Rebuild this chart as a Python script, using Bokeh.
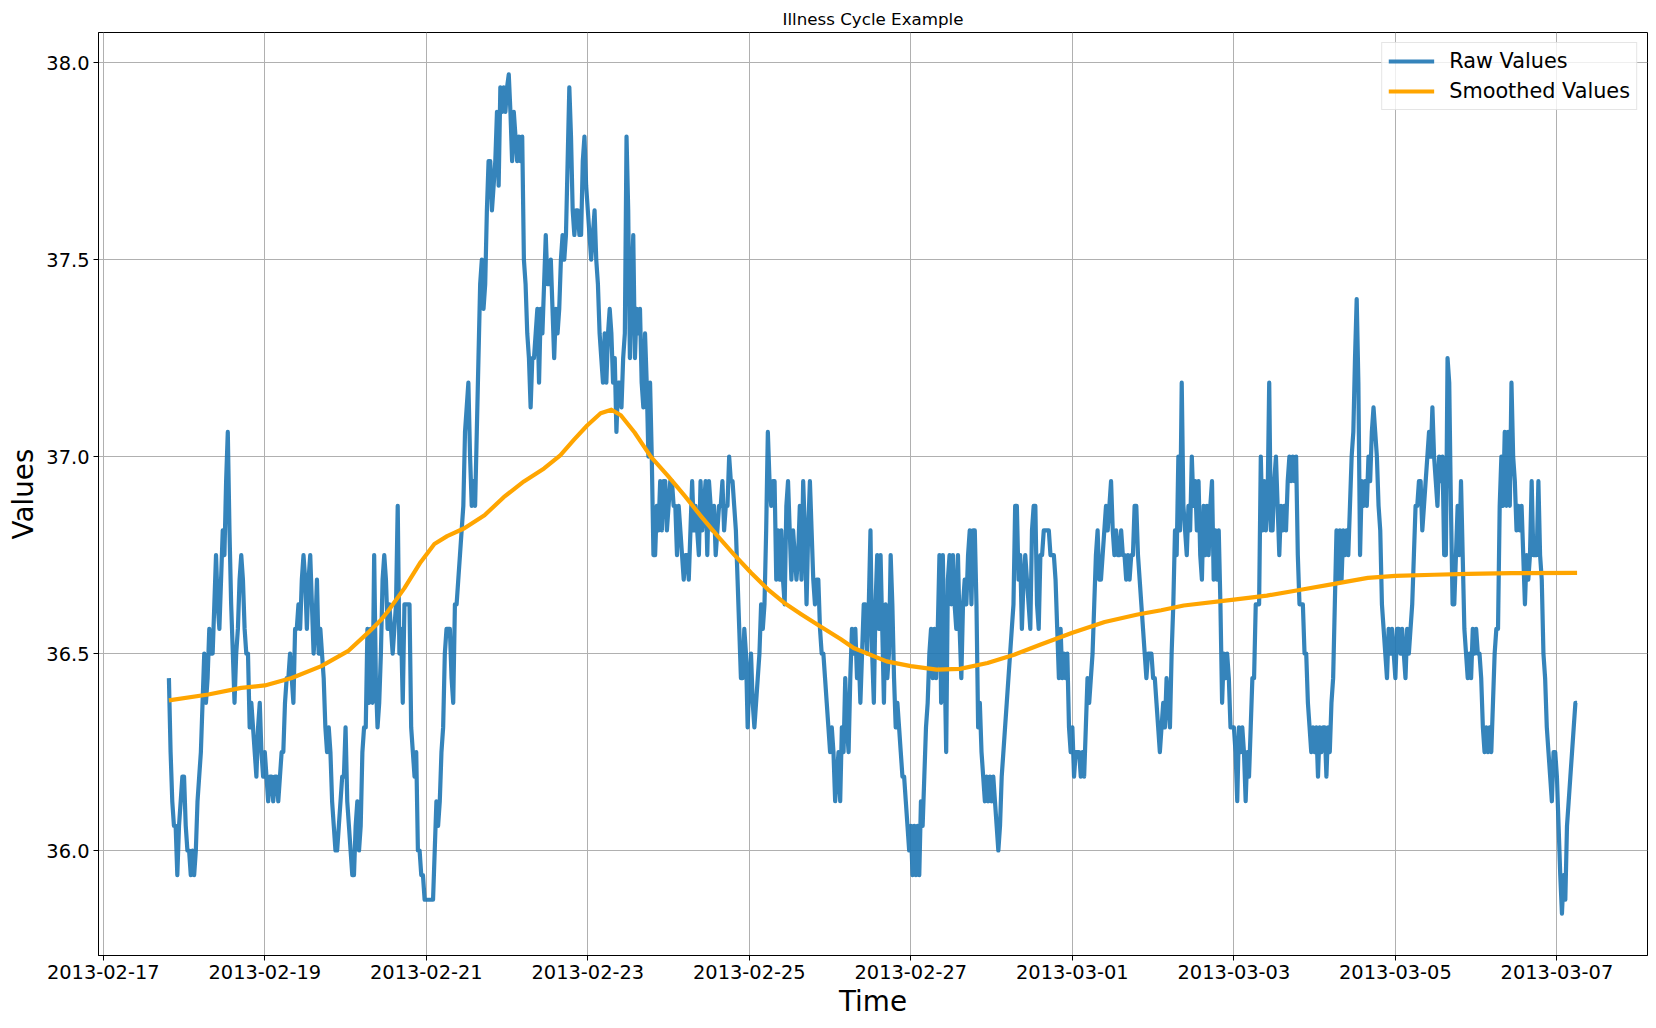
import pandas as pd
from bokeh.plotting import figure
from bokeh.models import Range1d, FixedTicker, DatetimeTickFormatter, NumeralTickFormatter
from bokeh.embed import file_html
from bokeh.resources import INLINE

# ---------------- data ----------------
raw_start = "2013-02-17 19:30"
raw_step = "30min"

raw_feb17 = [36.4375, 36.25, 36.125, 36.0625, 36.0625, 35.9375, 36.0625, 36.125, 36.1875]
raw_feb18 = [36.1875, 36.0625, 36.0, 36.0, 35.9375, 36.0, 35.9375, 36.0,
             36.125, 36.1875, 36.25, 36.375, 36.5, 36.375, 36.4375, 36.5625,
             36.5, 36.5, 36.625, 36.75, 36.625, 36.5625, 36.6875, 36.8125,
             36.75, 36.9375, 37.0625, 36.8125, 36.625, 36.5, 36.375, 36.5,
             36.5625, 36.6875, 36.75, 36.6875, 36.5625, 36.5, 36.5, 36.3125,
             36.375, 36.3125, 36.25, 36.1875, 36.3125, 36.375, 36.25, 36.1875]
raw_feb19 = [36.25, 36.1875, 36.125, 36.1875, 36.1875, 36.125, 36.1875, 36.1875,
             36.125, 36.1875, 36.25, 36.25, 36.375, 36.4375, 36.4375, 36.5,
             36.4375, 36.375, 36.5625, 36.5625, 36.625, 36.5625, 36.6875, 36.75,
             36.6875, 36.5625, 36.6875, 36.75, 36.625, 36.5, 36.5625, 36.6875,
             36.5, 36.5625, 36.5, 36.4375, 36.3125, 36.25, 36.3125, 36.25,
             36.125, 36.0625, 36.0, 36.0, 36.0625, 36.125, 36.1875, 36.1875]
raw_feb20 = [36.3125, 36.125, 36.0625, 36.0, 35.9375, 35.9375, 36.0625, 36.125,
             36.0, 36.0625, 36.25, 36.3125, 36.3125, 36.5625, 36.375, 36.5625,
             36.375, 36.75, 36.4375, 36.3125, 36.375, 36.5, 36.6875, 36.75,
             36.6875, 36.5625, 36.625, 36.5625, 36.5, 36.5625, 36.625, 36.875,
             36.5, 36.5625, 36.375, 36.625, 36.625, 36.625, 36.625, 36.3125,
             36.25, 36.1875, 36.25, 36.0, 36.0, 35.9375, 35.9375, 35.875]
raw_feb21 = [35.875, 35.875, 35.875, 35.875, 35.875, 36.0, 36.125, 36.0625,
             36.125, 36.25, 36.3125, 36.5, 36.5625, 36.5625, 36.5625, 36.4375,
             36.375, 36.625, 36.625, 36.6875, 36.75, 36.8125, 36.875, 37.0625,
             37.125, 37.1875, 37.0, 36.875, 36.9375, 36.875, 37.0625, 37.25,
             37.4375, 37.5, 37.375, 37.4375, 37.625, 37.75, 37.75, 37.625,
             37.6875, 37.75, 37.875, 37.6875, 37.9375, 37.875, 37.9375, 37.875]
raw_feb22 = [37.9375, 37.97, 37.875, 37.75, 37.875, 37.8125, 37.75, 37.8125,
             37.75, 37.8125, 37.5, 37.4375, 37.3125, 37.25, 37.125, 37.25,
             37.25, 37.3125, 37.375, 37.1875, 37.375, 37.3125, 37.4375, 37.5625,
             37.4375, 37.4375, 37.5, 37.375, 37.25, 37.375, 37.3125, 37.375,
             37.5, 37.5625, 37.5, 37.5625, 37.75, 37.9375, 37.8125, 37.625,
             37.5625, 37.625, 37.625, 37.5625, 37.5625, 37.75, 37.8125, 37.6875]
raw_feb23 = [37.625, 37.5625, 37.5, 37.5625, 37.625, 37.5, 37.4375, 37.3125,
             37.25, 37.1875, 37.3125, 37.1875, 37.3125, 37.375, 37.3125, 37.1875,
             37.25, 37.0625, 37.1875, 37.1875, 37.125, 37.25, 37.3125, 37.8125,
             37.625, 37.25, 37.4375, 37.5625, 37.25, 37.375, 37.3125, 37.375,
             37.1875, 37.125, 37.3125, 37.1875, 37.0, 37.1875, 37.0, 36.75,
             36.75, 36.875, 36.8125, 36.9375, 36.8125, 36.9375, 36.9375, 36.8125]
raw_feb24 = [36.875, 36.9375, 36.9375, 36.875, 36.875, 36.75, 36.875, 36.8125,
             36.75, 36.6875, 36.75, 36.75, 36.6875, 36.8125, 36.9375, 36.8125,
             36.875, 36.8125, 36.75, 36.9375, 36.8125, 36.875, 36.9375, 36.75,
             36.9375, 36.875, 36.8125, 36.875, 36.75, 36.8125, 36.875, 36.875,
             36.9375, 36.8125, 36.875, 36.875, 37.0, 36.9375, 36.9375, 36.875,
             36.8125, 36.6875, 36.5625, 36.4375, 36.4375, 36.5625, 36.5, 36.3125]
raw_feb25 = [36.4375, 36.5, 36.375, 36.3125, 36.375, 36.4375, 36.5, 36.625,
             36.5625, 36.625, 36.8125, 37.0625, 36.9375, 36.875, 36.9375, 36.9375,
             36.6875, 36.8125, 36.6875, 36.8125, 36.6875, 36.625, 36.875, 36.9375,
             36.8125, 36.6875, 36.8125, 36.75, 36.6875, 36.75, 36.875, 36.6875,
             36.9375, 36.8125, 36.625, 36.8125, 36.9375, 36.8125, 36.6875, 36.625,
             36.6875, 36.6875, 36.5625, 36.5, 36.5, 36.4375, 36.375, 36.3125]
raw_feb26 = [36.25, 36.3125, 36.25, 36.125, 36.1875, 36.25, 36.125, 36.3125,
             36.25, 36.4375, 36.3125, 36.25, 36.4375, 36.5625, 36.5, 36.5625,
             36.4375, 36.5, 36.375, 36.5, 36.625, 36.625, 36.5, 36.625,
             36.8125, 36.5, 36.375, 36.625, 36.75, 36.5625, 36.75, 36.5625,
             36.375, 36.625, 36.4375, 36.5, 36.75, 36.625, 36.4375, 36.3125,
             36.375, 36.3125, 36.25, 36.1875, 36.1875, 36.125, 36.0625, 36.0]
raw_feb27 = [36.0625, 35.9375, 36.0625, 35.9375, 36.0625, 35.9375, 36.125, 36.0625,
             36.1875, 36.3125, 36.375, 36.5, 36.5625, 36.4375, 36.5625, 36.4375,
             36.5625, 36.75, 36.375, 36.75, 36.5, 36.25, 36.6875, 36.75,
             36.625, 36.75, 36.625, 36.5625, 36.75, 36.5625, 36.4375, 36.625,
             36.6875, 36.625, 36.75, 36.8125, 36.625, 36.8125, 36.8125, 36.625,
             36.3125, 36.375, 36.25, 36.1875, 36.125, 36.1875, 36.125, 36.1875]
raw_feb28 = [36.125, 36.1875, 36.125, 36.0625, 36.0, 36.0625, 36.1875, 36.25,
             36.3125, 36.375, 36.4375, 36.5, 36.5625, 36.625, 36.875, 36.875,
             36.6875, 36.75, 36.5625, 36.6875, 36.75, 36.6875, 36.625, 36.5625,
             36.8125, 36.875, 36.875, 36.625, 36.5625, 36.75, 36.75, 36.8125,
             36.8125, 36.8125, 36.8125, 36.75, 36.75, 36.75, 36.6875, 36.5625,
             36.4375, 36.5625, 36.4375, 36.5, 36.4375, 36.5, 36.3125, 36.25]
raw_mar01 = [36.3125, 36.1875, 36.25, 36.25, 36.25, 36.1875, 36.25, 36.1875,
             36.3125, 36.4375, 36.375, 36.4375, 36.5, 36.625, 36.75, 36.8125,
             36.6875, 36.6875, 36.75, 36.8125, 36.875, 36.8125, 36.875, 36.9375,
             36.8125, 36.75, 36.8125, 36.75, 36.75, 36.8125, 36.75, 36.75,
             36.6875, 36.75, 36.6875, 36.75, 36.75, 36.875, 36.875, 36.75,
             36.6875, 36.625, 36.5625, 36.5, 36.4375, 36.5, 36.5, 36.5]
raw_mar02 = [36.4375, 36.4375, 36.375, 36.3125, 36.25, 36.3125, 36.375, 36.3125,
             36.4375, 36.375, 36.3125, 36.5, 36.625, 36.8125, 36.75, 37.0,
             36.8125, 37.1875, 36.875, 36.8125, 36.75, 36.875, 36.8125, 37.0,
             36.875, 36.9375, 36.8125, 36.9375, 36.75, 36.6875, 36.875, 36.75,
             36.875, 36.75, 36.875, 36.9375, 36.6875, 36.8125, 36.6875, 36.8125,
             36.625, 36.375, 36.5, 36.4375, 36.5, 36.4375, 36.3125, 36.3125]
raw_mar03 = [36.3125, 36.25, 36.125, 36.3125, 36.25, 36.3125, 36.25, 36.125,
             36.25, 36.1875, 36.3125, 36.4375, 36.4375, 36.625, 36.625, 36.625,
             37.0, 36.8125, 36.9375, 36.8125, 36.875, 37.1875, 36.8125, 36.8125,
             36.9375, 37.0, 36.875, 36.75, 36.875, 36.8125, 36.875, 36.8125,
             36.9375, 37.0, 36.9375, 37.0, 36.9375, 37.0, 36.75, 36.625,
             36.625, 36.625, 36.5, 36.5, 36.375, 36.3125, 36.25, 36.3125]
raw_mar04 = [36.25, 36.3125, 36.1875, 36.3125, 36.25, 36.3125, 36.3125, 36.1875,
             36.3125, 36.25, 36.375, 36.4375, 36.625, 36.8125, 36.6875, 36.8125,
             36.6875, 36.8125, 36.75, 36.8125, 36.75, 36.875, 37.0, 37.0625,
             37.25, 37.4, 37.1875, 36.75, 36.9375, 36.875, 36.9375, 36.875,
             37.0, 36.9375, 37.0625, 37.125, 37.0625, 37.0, 36.875, 36.8125,
             36.625, 36.5625, 36.5, 36.4375, 36.5625, 36.5, 36.5625, 36.5]
raw_mar05 = [36.4375, 36.5625, 36.5625, 36.5, 36.5625, 36.5, 36.4375, 36.5625,
             36.5, 36.5625, 36.625, 36.75, 36.875, 36.875, 36.9375, 36.9375,
             36.8125, 36.875, 36.9375, 37.0, 37.0625, 37.0, 37.125, 37.0,
             36.9375, 36.875, 37.0, 36.9375, 37.0, 36.75, 36.75, 37.25,
             37.1875, 36.875, 36.625, 36.625, 36.75, 36.875, 36.75, 36.9375,
             36.75, 36.5625, 36.5, 36.4375, 36.5, 36.4375, 36.5625, 36.5]
raw_mar06 = [36.5625, 36.5, 36.5, 36.4375, 36.3125, 36.25, 36.3125, 36.25,
             36.3125, 36.25, 36.375, 36.5, 36.5625, 36.5625, 36.875, 37.0,
             36.875, 37.0625, 36.875, 37.0625, 36.875, 37.1875, 37.0, 36.9375,
             36.8125, 36.875, 36.8125, 36.875, 36.75, 36.625, 36.75, 36.6875,
             36.75, 36.9375, 36.75, 36.75, 36.75, 36.9375, 36.75, 36.6875,
             36.5, 36.4375, 36.3125, 36.25, 36.1875, 36.125, 36.25, 36.25]
raw_mar07 = [36.1875, 36.0625, 35.9375, 35.84, 35.9375, 35.875, 36.0625, 36.125,
             36.1875, 36.25, 36.3125, 36.375, 36.375]

smooth_base = "2013-02-17 00:00"
smooth_hours = [19.5, 31.2, 41.0, 48.0, 56.0, 64.8, 72.7, 78.7, 82.6, 84.5,
                89.5, 94.3, 98.4, 102.2, 107.3, 113.3, 119.0, 125.0, 131.0, 135.8,
                139.9, 143.8, 147.8, 151.0, 153.8, 157.9, 162.7, 167.8, 172.8, 177.6,
                182.6, 187.4, 192.5, 197.5, 202.3, 207.4, 212.9, 219.1, 223.0, 232.8,
                240.0, 247.7, 254.6, 262.8, 270.7, 278.6, 288.0, 297.6, 307.4, 314.4,
                321.1, 336.0, 345.8, 355.9, 365.8, 375.8, 384.0, 395.5, 405.6, 418.6,
                438.0]
smooth_values = [36.381, 36.396, 36.413, 36.419, 36.438, 36.468, 36.506, 36.553, 36.586, 36.606,
                 36.666, 36.732, 36.778, 36.798, 36.818, 36.851, 36.897, 36.937, 36.970, 37.003,
                 37.043, 37.079, 37.110, 37.119, 37.105, 37.061, 37.000, 36.951, 36.900, 36.849,
                 36.798, 36.752, 36.705, 36.663, 36.629, 36.600, 36.570, 36.537, 36.514, 36.480,
                 36.468, 36.459, 36.461, 36.476, 36.497, 36.523, 36.553, 36.580, 36.599, 36.610,
                 36.622, 36.637, 36.647, 36.662, 36.677, 36.692, 36.697, 36.700, 36.702, 36.704,
                 36.705]

x_tick_labels = ["2013-02-17", "2013-02-19", "2013-02-21", "2013-02-23", "2013-02-25",
                 "2013-02-27", "2013-03-01", "2013-03-03", "2013-03-05", "2013-03-07"]
y_ticks = [36.0, 36.5, 37.0, 37.5, 38.0]

# ---------------- build ----------------
raw_values = (raw_feb17 + raw_feb18 + raw_feb19 + raw_feb20 + raw_feb21 + raw_feb22 +
              raw_feb23 + raw_feb24 + raw_feb25 + raw_feb26 + raw_feb27 + raw_feb28 +
              raw_mar01 + raw_mar02 + raw_mar03 + raw_mar04 + raw_mar05 + raw_mar06 +
              raw_mar07)
raw_time = pd.date_range(raw_start, periods=len(raw_values), freq=raw_step)
smooth_time = pd.Timestamp(smooth_base) + pd.to_timedelta(smooth_hours, unit="h")

FONT = "DejaVu Sans"

t0, t1 = raw_time[0], raw_time[-1]
tspan = t1 - t0
vmin = min(min(raw_values), min(smooth_values))
vmax = max(max(raw_values), max(smooth_values))
vspan = vmax - vmin

p = figure(width=1648, height=1020, x_axis_type="datetime",
           output_backend="svg", toolbar_location=None,
           title="Illness Cycle Example",
           min_border_left=98, min_border_right=1,
           min_border_top=32, min_border_bottom=64,
           x_range=Range1d((t0 - tspan * 0.05).to_pydatetime(), (t1 + tspan * 0.05).to_pydatetime()),
           y_range=Range1d(vmin - vspan * 0.05, vmax + vspan * 0.05))

p.line(raw_time, raw_values, line_color="#1f77b4", line_alpha=0.9, line_width=4.2,
       line_join="round", legend_label="Raw Values")
p.line(smooth_time, smooth_values, line_color="orange", line_width=4.2,
       line_join="round", legend_label="Smoothed Values")

# title
p.title.align = "center"
p.title.text_font = FONT
p.title.text_font_size = "16.7px"
p.title.text_font_style = "normal"
p.title.text_color = "black"
p.title.standoff = 7

# axes
x_tick_ms = [pd.Timestamp(s).value / 1e6 for s in x_tick_labels]
p.xaxis.ticker = FixedTicker(ticks=x_tick_ms)
fmt = "%Y-%m-%d"
p.xaxis.formatter = DatetimeTickFormatter(days=fmt, months=fmt, hours=fmt, years=fmt,
                                          hourmin=fmt, minutes=fmt)
p.yaxis.ticker = FixedTicker(ticks=y_ticks)
p.yaxis.formatter = NumeralTickFormatter(format="0.0")

p.xaxis.axis_label = "Time"
p.yaxis.axis_label = "Values"
for ax in (p.xaxis, p.yaxis):
    ax.axis_label_text_font = FONT
    ax.axis_label_text_font_size = "27.8px"
    ax.axis_label_text_font_style = "normal"
    ax.axis_label_text_color = "black"
    ax.major_label_text_font = FONT
    ax.major_label_text_font_size = "19.4px"
    ax.major_label_text_color = "black"
    ax.major_tick_out = 5
    ax.major_tick_in = 0
    ax.minor_tick_out = 0
    ax.minor_tick_in = 0
    ax.major_tick_line_color = "black"
    ax.major_tick_line_width = 1
    ax.axis_line_color = "black"
    ax.axis_line_width = 1
    ax.major_label_standoff = 4
    ax.axis_label_standoff = 3

p.grid.grid_line_color = "#b0b0b0"
p.grid.grid_line_width = 1
p.outline_line_color = "black"
p.outline_line_width = 1
p.outline_line_alpha = 1
p.background_fill_color = "white"
p.border_fill_color = "white"

# legend
lg = p.legend[0]
lg.location = "top_right"
lg.margin = 10
lg.padding = 6
lg.spacing = 6
lg.glyph_width = 46
lg.glyph_height = 24
lg.label_height = 24
lg.label_standoff = 15
lg.label_text_font = FONT
lg.label_text_font_size = "20.8px"
lg.label_text_color = "black"
lg.border_line_color = "#cccccc"
lg.border_line_width = 1
lg.background_fill_alpha = 0.8

open("out.html", "w").write(file_html(p, INLINE))
